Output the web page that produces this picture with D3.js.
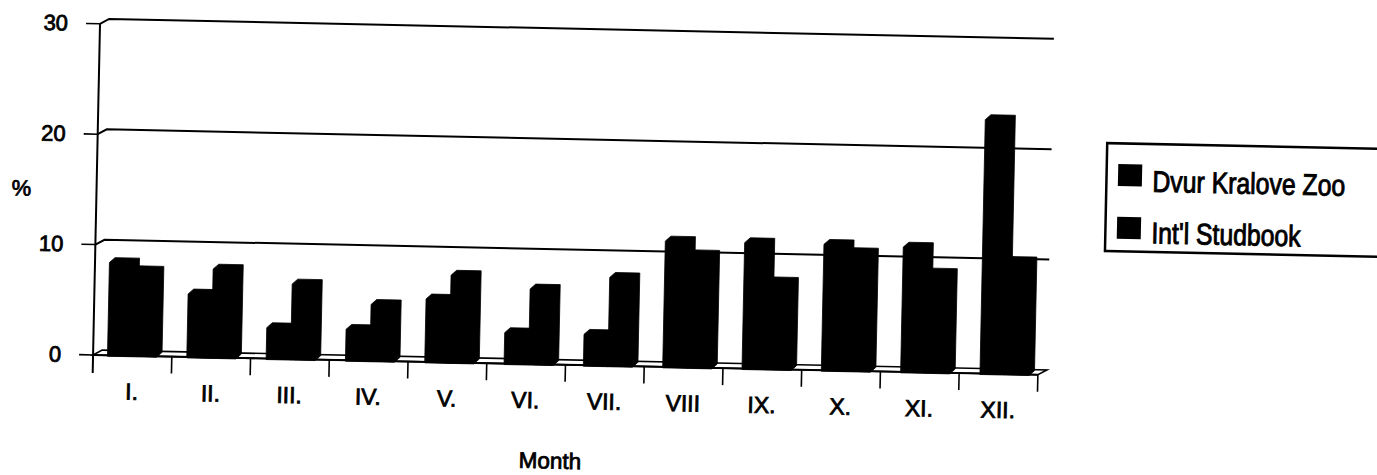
<!DOCTYPE html>
<html>
<head>
<meta charset="utf-8">
<script src="https://cdn.jsdelivr.net/npm/d3@7"></script>
<style>
  body { margin: 0; background: #fff; }
  svg { display: block; }
  text { font-family: "Liberation Sans", Arial, sans-serif; fill: #000; stroke: #000; stroke-width: 0.8px; }
</style>
</head>
<body>
<svg id="chart" width="1377" height="475"></svg>
<script>
// Monthly distribution of births (%)
const months = ["I.", "II.", "III.", "IV.", "V.", "VI.", "VII.", "VIII", "IX.", "X.", "XI.", "XII."];
const dvurKralove = [8.4, 5.7, 2.8, 2.8, 5.7, 2.8, 2.8, 11.4, 11.4, 11.4, 11.3, 23.0];
const studbook = [7.7, 8.0, 6.8, 5.1, 7.9, 6.8, 8.0, 10.2, 7.9, 10.7, 9.0, 10.2];
const seriesNames = ["Dvur Kralove Zoo", "Int'l Studbook"];
const yTickValues = [0, 10, 20, 30];

const W = 1377, H = 475;
const svg = d3.select("#chart");
svg.append("rect").attr("width", W).attr("height", H).attr("fill", "#fff");

// whole figure sits slightly tilted on the page
const g = svg.append("g").attr("transform", "rotate(1.2,100,24)");

const y0 = 355;
const y = d3.scaleLinear().domain([0, 30]).range([y0, 23.8]);
const x = d3.scaleBand().domain(months).range([100, 1045]);
const xBar = d3.scaleBand().domain(months).range([102, 1054]);

const wall = { dx: 9, dy: 5 };        // depth of the 3-D box
const barW = 24.5, barDx = 5.5, barDy = 5; // column face width and top/side depth

// back-wall gridlines with their short side-wall stub
g.selectAll("path.grid")
  .data(yTickValues.filter(v => v > 0))
  .join("path")
  .attr("class", "grid")
  .attr("d", v => `M100,${y(v)}L${100 + wall.dx},${y(v) - wall.dy}L${1045 + wall.dx},${y(v) - wall.dy}`)
  .attr("fill", "none").attr("stroke", "#000").attr("stroke-width", 2);

// floor
g.append("path")
  .attr("d", `M100,${y0}L${100 + wall.dx},${y0 - wall.dy}L${1045 + wall.dx},${y0 - wall.dy}L1045,${y0}Z`)
  .attr("fill", "#fff").attr("stroke", "#000").attr("stroke-width", 1.6);

// columns: front face + top face + right side face
const rows = [];
months.forEach((m, i) => {
  [dvurKralove, studbook].forEach((vals, s) => rows.push({ m, s, v: vals[i] }));
});
const groupW = 2 * barW + barDx;
g.selectAll("path.bar")
  .data(rows)
  .join("path")
  .attr("class", "bar")
  .attr("d", d => {
    const xl = xBar(d.m) + xBar.bandwidth() / 2 - groupW / 2 + d.s * barW;
    const yt = y(d.v), yb = y0 + 1;
    return `M${xl},${yb}L${xl},${yt}L${xl + barDx},${yt - barDy}L${xl + barW + barDx},${yt - barDy}` +
           `L${xl + barW + barDx},${yb - barDy}L${xl + barW},${yb}Z`;
  })
  .attr("fill", "#000").attr("stroke", "#000").attr("stroke-width", 0.8);

// x-axis front edge
g.append("line").attr("x1", 100).attr("x2", 1045).attr("y1", y0).attr("y2", y0)
  .attr("stroke", "#000").attr("stroke-width", 2);

// value axis
g.append("line").attr("x1", 100).attr("x2", 100).attr("y1", y(30)).attr("y2", y0 + 18)
  .attr("stroke", "#000").attr("stroke-width", 2);
g.selectAll("line.ytick").data(yTickValues).join("line").attr("class", "ytick")
  .attr("x1", 86).attr("x2", 100).attr("y1", d => y(d)).attr("y2", d => y(d))
  .attr("stroke", "#000").attr("stroke-width", 1.6);
g.selectAll("text.ylab").data(yTickValues).join("text").attr("class", "ylab")
  .attr("x", 68).attr("y", d => y(d) + 7.5).attr("text-anchor", "end")
  .style("font-size", "22px").text(d => d);

// category ticks and labels
const edges = d3.range(months.length + 1).map(i => 100 + i * x.bandwidth());
g.selectAll("line.xtick").data(edges.slice(1)).join("line").attr("class", "xtick")
  .attr("x1", d => d).attr("x2", d => d).attr("y1", y0).attr("y2", y0 + 17)
  .attr("stroke", "#000").attr("stroke-width", 1.6);
g.selectAll("text.xlab").data(months).join("text").attr("class", "xlab")
  .attr("x", d => x(d) + x.bandwidth() / 2).attr("y", 399).attr("text-anchor", "middle")
  .style("font-size", "23px").text(d => d);

// axis titles
g.append("text").attr("x", 25).attr("y", 197).attr("text-anchor", "middle")
  .style("font-size", "22px").text("%");
g.append("text").attr("x", 559).attr("y", 459).attr("text-anchor", "middle")
  .style("font-size", "22.5px").text("Month");

// legend
const legend = g.append("g");
legend.append("rect").attr("x", 1109.5).attr("y", 122).attr("width", 300).attr("height", 108)
  .attr("fill", "#fff").attr("stroke", "#000").attr("stroke-width", 2.5);
const items = legend.selectAll("g.item").data(seriesNames).join("g").attr("class", "item");
items.append("rect").attr("x", 1121).attr("y", (d, i) => 142.6 + i * 52.7)
  .attr("width", 24).attr("height", 22).attr("fill", "#000");
items.append("text")
  .attr("transform", (d, i) => `translate(1155.5,${169.6 + i * 51.6}) scale(1,1.2)`)
  .style("font-size", "24.8px").text(d => d);
</script>
</body>
</html>
